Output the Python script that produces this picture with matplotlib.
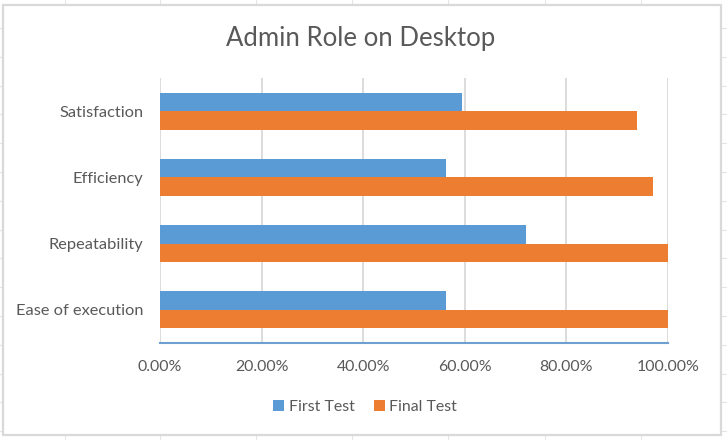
import matplotlib
matplotlib.use("Agg")
import matplotlib.pyplot as plt
from matplotlib.lines import Line2D
from matplotlib.patches import Rectangle, Patch
from matplotlib.ticker import FuncFormatter
import numpy as np

categories = ["Ease of execution", "Repeatability", "Efficiency", "Satisfaction"]
first_test = [0.563, 0.720, 0.563, 0.595]
final_test = [1.0, 1.0, 0.970, 0.939]
series_names = ["First Test", "Final Test"]
xticks = [0, 0.2, 0.4, 0.6, 0.8, 1.0]
title = "Admin Role on Desktop"

W, H = 727, 440
plt.rcParams['font.family'] = ['Lato', 'DejaVu Sans']
fig = plt.figure(figsize=(W / 100, H / 100), dpi=100)
fig.patch.set_facecolor("white")

def px(x, y):
    return x / W, 1 - y / H

# spreadsheet cell grid in the background
for x in [65, 160, 256, 352, 448, 545, 641]:
    fig.add_artist(Line2D([x / W, x / W], [0, 1], color="#e4e4e4", lw=0.8, zorder=0))
for k in range(16):
    y = 28 + 28.8 * k - 28.8
    if 0 <= y <= H:
        fig.add_artist(Line2D([0, 1], [1 - y / H, 1 - y / H], color="#e4e4e4", lw=0.8, zorder=0))

# chart area
x0, y0 = px(3, 435)
fig.add_artist(Rectangle((x0, y0), (721 - 3) / W, (435 - 5) / H, transform=fig.transFigure,
                         facecolor="white", edgecolor="#d9d9d9", lw=1.6, zorder=1))

ax = fig.add_axes([160 / W, (440 - 343) / H, 508 / W, (343 - 78) / H], zorder=2)
ax.set_facecolor("none")

y = np.arange(len(categories))
h = 0.28
ax.barh(y + h / 2, first_test, height=h, color="#5B9BD5", label=series_names[0], zorder=3)
ax.barh(y - h / 2, final_test, height=h, color="#ED7D31", label=series_names[1], zorder=3)

ax.set_xlim(0, 1.0)
ax.set_ylim(-0.5, len(categories) - 0.5)
ax.set_xticks(xticks)
ax.xaxis.set_major_formatter(FuncFormatter(lambda v, p: f"{v*100:.2f}%"))
ax.set_yticks(y)
ax.set_yticklabels(categories)
ax.grid(axis="x", color="#d9d9d9", lw=1.3, zorder=0)
ax.set_axisbelow(True)
for s in ["top", "right", "left"]:
    ax.spines[s].set_visible(False)
ax.spines["bottom"].set_color("#6f9fd0")
ax.spines["bottom"].set_linewidth(1.5)
ax.tick_params(axis="both", length=0, colors="#595959")
ax.tick_params(axis="x", pad=12, labelsize=11.4)
ax.tick_params(axis="y", pad=12, labelsize=11.8)

fig.text(361 / W, 1 - 46 / H, title, ha="center", va="baseline", fontsize=18.5, color="#595959", zorder=3)

handles = [Patch(facecolor="#5B9BD5"), Patch(facecolor="#ED7D31")]
fig.legend(handles, series_names, loc="center", bbox_to_anchor=(365 / W, 1 - 407 / H), ncol=2,
           frameon=False, fontsize=11.4, labelcolor="#595959", handlelength=0.7, handleheight=0.7,
           handletextpad=0.3, columnspacing=1.2)

fig.savefig("out.png", dpi=100, facecolor="white")
